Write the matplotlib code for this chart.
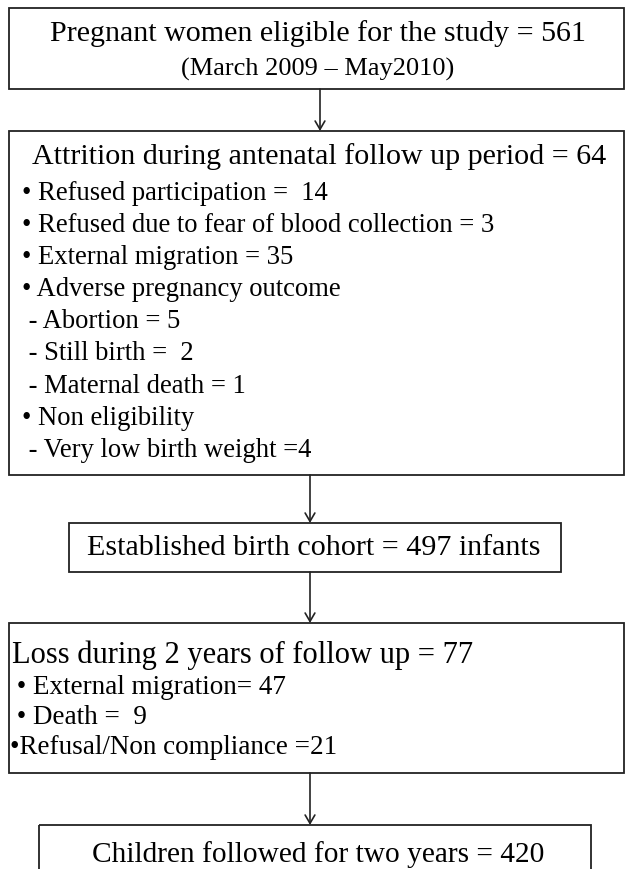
import matplotlib.pyplot as plt
from matplotlib.patches import Rectangle

plt.rcParams['font.family'] = ['Liberation Serif', 'DejaVu Serif']

# flowchart text
top_title = "Pregnant women eligible for the study = 561"
top_sub = "(March 2009 \u2013 May2010)"

attr_title = "Attrition during antenatal follow up period = 64"
attr_items = [
    "\u2022 Refused participation =  14",
    "\u2022 Refused due to fear of blood collection = 3",
    "\u2022 External migration = 35",
    "\u2022 Adverse pregnancy outcome",
    " - Abortion = 5",
    " - Still birth =  2",
    " - Maternal death = 1",
    "\u2022 Non eligibility",
    " - Very low birth weight =4",
]

cohort_text = "Established birth cohort = 497 infants"

loss_title = "Loss during 2 years of follow up = 77"
loss_items = [
    " \u2022 External migration= 47",
    " \u2022 Death =  9",
    "\u2022Refusal/Non compliance =21",
]

final_text = "Children followed for two years = 420"

W, H = 628, 869
fig = plt.figure(figsize=(W / 100, H / 100), dpi=100)
ax = fig.add_axes([0, 0, 1, 1])
ax.set_xlim(0, W)
ax.set_ylim(H, 0)
ax.axis('off')

def box(x0, y0, x1, y1):
    ax.add_patch(Rectangle((x0, y0), x1 - x0, y1 - y0, fill=False,
                           edgecolor='#222222', linewidth=1.3))

def arrow(x, y0, y1):
    ax.annotate("", xy=(x, y1), xytext=(x, y0),
                arrowprops=dict(arrowstyle='->,head_length=0.6,head_width=0.35',
                                color='#222222', lw=1.2, shrinkA=0, shrinkB=0))

big = 21.6

# box 1
box(9, 8, 624, 89)
ax.text(318, 34, top_title, ha='center', va='center', fontsize=big)
ax.text(318, 69, top_sub, ha='center', va='center', fontsize=19)
arrow(320, 89, 131)

# box 2
box(9, 131, 624, 475)
ax.text(32, 157, attr_title, ha='left', va='center', fontsize=big)
for i, s in enumerate(attr_items):
    ax.text(22, 193 + i * 32.2, s, ha='left', va='center', fontsize=19.2)
arrow(310, 475, 523)

# box 3
box(69, 523, 561, 572)
ax.text(314, 548, cohort_text, ha='center', va='center', fontsize=big)
arrow(310, 572, 623)

# box 4
box(9, 623, 624, 773)
ax.text(12, 655, loss_title, ha='left', va='center', fontsize=22)
for i, s in enumerate(loss_items):
    ax.text(10, 688 + i * 29.5, s, ha='left', va='center', fontsize=19.5)
arrow(310, 773, 825)

# box 5 (bottom edge falls outside the picture)
box(39, 825, 591, 900)
ax.text(318, 855, final_text, ha='center', va='center', fontsize=21.2)

fig.savefig("out.png", dpi=100, facecolor='white')
